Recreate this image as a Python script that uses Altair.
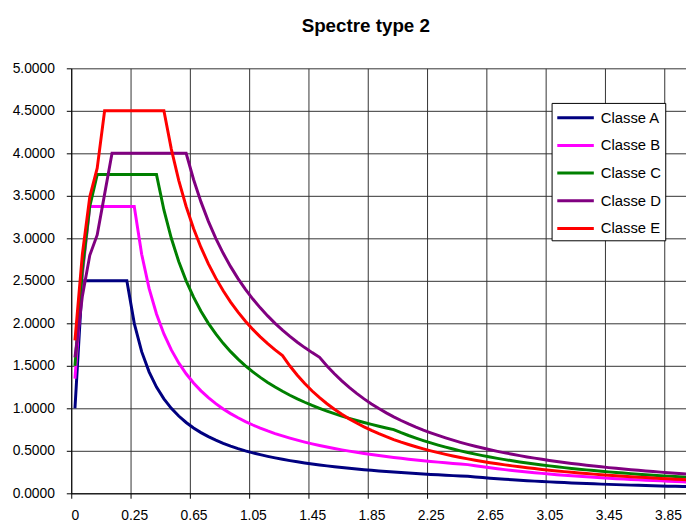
import altair as alt
import pandas as pd

periods = ["0", "0.03", "0.05", "0.06", "0.08", "0.10", "0.15", "0.20",
           "0.25", "0.30", "0.35", "0.40", "0.45", "0.50", "0.55", "0.60",
           "0.65", "0.70", "0.75", "0.80", "0.85", "0.90", "0.95", "1.00",
           "1.05", "1.10", "1.15", "1.20", "1.25", "1.30", "1.35", "1.40",
           "1.45", "1.50", "1.55", "1.60", "1.65", "1.70", "1.75", "1.80",
           "1.85", "1.90", "1.95", "2.00", "2.05", "2.10", "2.15", "2.20",
           "2.25", "2.30", "2.35", "2.40", "2.45", "2.50", "2.55", "2.60",
           "2.65", "2.70", "2.75", "2.80", "2.85", "2.90", "2.95", "3.00",
           "3.05", "3.10", "3.15", "3.20", "3.25", "3.30", "3.35", "3.40",
           "3.45", "3.50", "3.55", "3.60", "3.65", "3.70", "3.75", "3.80",
           "3.85", "3.90", "3.95", "4.00"]

tick_labels = ["0", "0.25", "0.65", "1.05", "1.45", "1.85", "2.25", "2.65",
               "3.05", "3.45", "3.85"]

classes = ["Classe A", "Classe B", "Classe C", "Classe D", "Classe E"]
colors = ["#000080", "#FF00FF", "#008000", "#800080", "#FF0000"]

classe_a = [1.0, 2.5, 2.5, 2.5, 2.5, 2.5, 2.5, 2.5,
            2.0, 1.6667, 1.4286, 1.25, 1.1111, 1.0, 0.9091, 0.8333,
            0.7692, 0.7143, 0.6667, 0.625, 0.5882, 0.5556, 0.5263, 0.5,
            0.4762, 0.4545, 0.4348, 0.4167, 0.4, 0.3846, 0.3704, 0.3571,
            0.3448, 0.3333, 0.3226, 0.3125, 0.3030, 0.2941, 0.2857, 0.2778,
            0.2703, 0.2632, 0.2564, 0.25, 0.2439, 0.2381, 0.2326, 0.2273,
            0.2222, 0.2174, 0.2128, 0.2083, 0.2041, 0.2, 0.1922, 0.1849,
            0.1780, 0.1715, 0.1653, 0.1594, 0.1539, 0.1486, 0.1436, 0.1389,
            0.1344, 0.1301, 0.1260, 0.1221, 0.1183, 0.1148, 0.1114, 0.1081,
            0.1050, 0.1020, 0.0992, 0.0965, 0.0938, 0.0913, 0.0889, 0.0866,
            0.0843, 0.0822, 0.0801, 0.0781]

classe_b = [1.35, 2.565, 3.375, 3.375, 3.375, 3.375, 3.375, 3.375,
            3.375, 2.8125, 2.4107, 2.1094, 1.875, 1.6875, 1.5341, 1.4063,
            1.2981, 1.2054, 1.125, 1.0547, 0.9926, 0.9375, 0.8882, 0.8438,
            0.8036, 0.7670, 0.7337, 0.7031, 0.675, 0.6490, 0.625, 0.6027,
            0.5819, 0.5625, 0.5444, 0.5273, 0.5114, 0.4963, 0.4821, 0.4688,
            0.4561, 0.4441, 0.4327, 0.4219, 0.4116, 0.4018, 0.3924, 0.3835,
            0.375, 0.3668, 0.3590, 0.3516, 0.3444, 0.3375, 0.3244, 0.3120,
            0.3004, 0.2894, 0.2789, 0.2691, 0.2597, 0.2508, 0.2424, 0.2344,
            0.2268, 0.2195, 0.2126, 0.2060, 0.1997, 0.1937, 0.1880, 0.1825,
            0.1772, 0.1722, 0.1674, 0.1628, 0.1583, 0.1541, 0.15, 0.1461,
            0.1423, 0.1387, 0.1352, 0.1318]

classe_c = [1.5, 2.625, 3.375, 3.75, 3.75, 3.75, 3.75, 3.75,
            3.75, 3.75, 3.75, 3.75, 3.3333, 3.0, 2.7273, 2.5,
            2.3077, 2.1429, 2.0, 1.875, 1.7647, 1.6667, 1.5789, 1.5,
            1.4286, 1.3636, 1.3043, 1.25, 1.2, 1.1538, 1.1111, 1.0714,
            1.0345, 1.0, 0.9677, 0.9375, 0.9091, 0.8824, 0.8571, 0.8333,
            0.8108, 0.7895, 0.7692, 0.75, 0.7139, 0.6803, 0.6490, 0.6198,
            0.5926, 0.5671, 0.5432, 0.5208, 0.4998, 0.48, 0.4614, 0.4438,
            0.4272, 0.4115, 0.3967, 0.3827, 0.3693, 0.3567, 0.3447, 0.3333,
            0.3225, 0.3122, 0.3023, 0.2930, 0.2840, 0.2755, 0.2673, 0.2595,
            0.2520, 0.2449, 0.2381, 0.2315, 0.2252, 0.2191, 0.2133, 0.2078,
            0.2024, 0.1972, 0.1923, 0.1875]

classe_d = [1.6, 2.32, 2.8, 3.04, 3.52, 4.0, 4.0, 4.0,
            4.0, 4.0, 4.0, 4.0, 4.0, 4.0, 4.0, 4.0,
            3.6923, 3.4286, 3.2, 3.0, 2.8235, 2.6667, 2.5263, 2.4,
            2.2857, 2.1818, 2.0870, 2.0, 1.92, 1.8462, 1.7778, 1.7143,
            1.6552, 1.6, 1.4984, 1.4063, 1.3223, 1.2457, 1.1755, 1.1111,
            1.0519, 0.9972, 0.9467, 0.9, 0.8566, 0.8163, 0.7788, 0.7438,
            0.7111, 0.6805, 0.6519, 0.625, 0.5998, 0.576, 0.5536, 0.5325,
            0.5126, 0.4938, 0.4760, 0.4592, 0.4432, 0.4281, 0.4137, 0.4,
            0.3870, 0.3746, 0.3628, 0.3516, 0.3408, 0.3306, 0.3208, 0.3114,
            0.3025, 0.2939, 0.2857, 0.2778, 0.2702, 0.2630, 0.2560, 0.2493,
            0.2429, 0.2367, 0.2307, 0.225]

classe_e = [1.8, 2.8125, 3.4875, 3.825, 4.5, 4.5, 4.5, 4.5,
            4.5, 4.5, 4.5, 4.5, 4.5, 4.05, 3.6818, 3.375,
            3.1154, 2.8929, 2.7, 2.5313, 2.3824, 2.25, 2.1316, 2.025,
            1.9286, 1.8409, 1.7609, 1.6875, 1.62, 1.4978, 1.3889, 1.2915,
            1.2039, 1.125, 1.0536, 0.9888, 0.9298, 0.8759, 0.8265, 0.7813,
            0.7396, 0.7012, 0.6657, 0.6328, 0.6023, 0.5740, 0.5476, 0.5230,
            0.5, 0.4785, 0.4584, 0.4395, 0.4217, 0.405, 0.3893, 0.3744,
            0.3605, 0.3472, 0.3347, 0.3229, 0.3116, 0.3010, 0.2909, 0.2813,
            0.2721, 0.2634, 0.2551, 0.2472, 0.2396, 0.2324, 0.2255, 0.2190,
            0.2127, 0.2066, 0.2009, 0.1953, 0.1900, 0.1849, 0.18, 0.1753,
            0.1708, 0.1664, 0.1622, 0.1582]

y_ticks = [0, 0.5, 1, 1.5, 2, 2.5, 3, 3.5, 4, 4.5, 5]

series = [classe_a, classe_b, classe_c, classe_d, classe_e]
rows = []
for name, vals in zip(classes, series):
    for i, (t, v) in enumerate(zip(periods, vals)):
        rows.append({"pos": i, "T": t, "Se": v, "Classe": name})
df = pd.DataFrame(rows)

# Excel-like category axis: gridlines on category boundaries every 8 categories,
# labels centred on the category.
PLOT_W = 622
CAT_W = 7.5
boundaries = [periods.index(lbl) - 0.5 for lbl in tick_labels]
label_arr = "[" + ",".join("'" + s + "'" for s in tick_labels) + "]"
label_expr = label_arr + "[round((datum.value + 0.5) / 8)]"

FONT = "Liberation Sans"

chart = alt.Chart(df).mark_line(strokeWidth=3, clip=True).encode(
    x=alt.X(
        "pos:Q",
        title=None,
        scale=alt.Scale(domain=[-0.5, -0.5 + PLOT_W / CAT_W], nice=False, zero=False),
        axis=alt.Axis(
            values=boundaries, labelExpr=label_expr, labelOffset=3.75,
            labelFlush=False, labelOverlap=False, labelAngle=0,
            grid=True, gridColor="#333333", gridWidth=1,
            tickColor="#000000", tickSize=5, domainColor="#000000",
            labelPadding=10, labelFontSize=14, labelFont=FONT, labelColor="#000000",
        ),
    ),
    y=alt.Y(
        "Se:Q",
        title=None,
        scale=alt.Scale(domain=[0, 5], nice=False),
        axis=alt.Axis(
            values=y_ticks, format=".4f",
            grid=True, gridColor="#333333", gridWidth=1,
            tickColor="#000000", tickSize=5, domainColor="#000000",
            labelPadding=12, labelFontSize=14, labelFont=FONT, labelColor="#000000",
        ),
    ),
    color=alt.Color(
        "Classe:N",
        title=None,
        scale=alt.Scale(domain=classes, range=colors),
        legend=alt.Legend(
            orient="none", legendX=486, legendY=35,
            symbolType="M-2,0H2", symbolSize=342, symbolStrokeWidth=3,
            symbolOffset=9.25,
            labelFontSize=15, labelFont=FONT, labelColor="#000000",
            labelOffset=14.5, rowPadding=9, padding=4,
            fillColor="#FFFFFF", strokeColor="#000000",
        ),
    ),
).properties(
    width=PLOT_W,
    height=430,
    title=alt.TitleParams(
        "Spectre type 2", font=FONT, fontSize=19, fontWeight="bold",
        color="#000000", anchor="middle", frame="group", dx=-13, offset=26,
    ),
    padding={"left": 64, "top": 58, "right": 0, "bottom": 27},
    autosize=alt.AutoSizeParams(type="none"),
).configure_view(stroke="transparent")

chart.save("out.html", embed_options={"renderer": "svg", "actions": False})
